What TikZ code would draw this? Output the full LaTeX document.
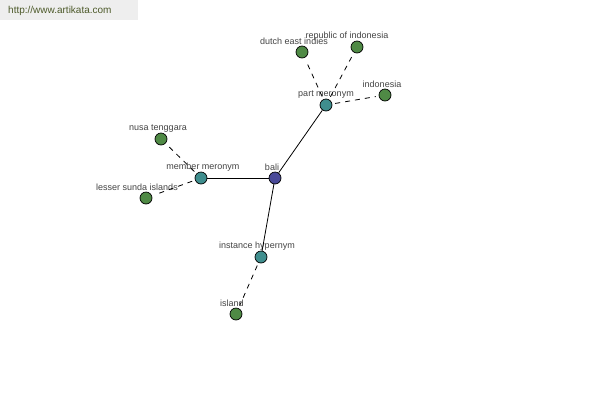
\documentclass[tikz,border=0pt]{standalone}
\usepackage{fontspec}
\setmainfont{Liberation Sans}

\definecolor{leafgreen}{HTML}{4F8A45}
\definecolor{relteal}{HTML}{3F8E8E}
\definecolor{rootblue}{HTML}{4A4A99}
\definecolor{labelgray}{HTML}{444444}
\definecolor{urlolive}{HTML}{4D5A2A}
\definecolor{bannergray}{HTML}{EEEEEE}

\tikzset{
	word/.style = {circle, draw = black, line width = 0.7pt, minimum size = 12pt, inner sep = 0pt, label distance = 0pt},
	root/.style = {word, fill = rootblue},
	relation/.style = {word, fill = relteal},
	leaf/.style = {word, fill = leafgreen},
	wordlabel/.style = {font = \fontsize{9}{10}\selectfont, text = labelgray, inner sep = 0.5pt},
	link/.style = {line width = 0.8pt},
	weaklink/.style = {line width = 0.8pt, dash pattern = on 5pt off 5pt, shorten < = 3pt, shorten > = 3pt}
}

\begin{document}
\begin{tikzpicture}[x = 1pt, y = -1pt]

	% Page and banner
	
	\useasboundingbox [fill = white] (0, 0) rectangle (600, 400);
	\fill [bannergray] (0, 0) rectangle (138, 20);
	\node (url) [anchor = west, inner sep = 0pt, text = urlolive, font = \fontsize{10}{12}\selectfont] at (8, 10.5) {http://www.artikata.com};
	
	% Words
	
	\node (bali) [root, label = {[wordlabel, xshift = -3pt]above:bali}] at (275, 178) {};
	
	\node (member) [relation, label = {[wordlabel, xshift = 2pt]above:member meronym}] at (201, 178) {};
	\node (part) [relation, label = {[wordlabel]above:part meronym}] at (326, 105) {};
	\node (instance) [relation, label = {[wordlabel, xshift = -4pt]above:instance hypernym}] at (261, 257) {};
	
	\node (nusa) [leaf, label = {[wordlabel, xshift = -3pt]above:nusa tenggara}] at (161, 139) {};
	\node (lesser) [leaf, label = {[wordlabel, xshift = -9pt]above:lesser sunda islands}] at (146, 198) {};
	\node (dutch) [leaf, label = {[wordlabel, xshift = -8pt]above:dutch east indies}] at (302, 52) {};
	\node (republic) [leaf, label = {[wordlabel, xshift = -10pt]above:republic of indonesia}] at (357, 47) {};
	\node (indonesia) [leaf, label = {[wordlabel, xshift = -3pt]above:indonesia}] at (385, 95) {};
	\node (island) [leaf, label = {[wordlabel, xshift = -4pt]above:island}] at (236, 314) {};
	
	% Relations
	
	\foreach \r in {member, part, instance}
		\draw [link] (bali) -- (\r);
	
	% Related words
	
	\foreach \r/\w in {member/nusa, member/lesser, part/dutch, part/republic, part/indonesia, instance/island}
		\draw [weaklink] (\r) -- (\w);

\end{tikzpicture}
\end{document}
